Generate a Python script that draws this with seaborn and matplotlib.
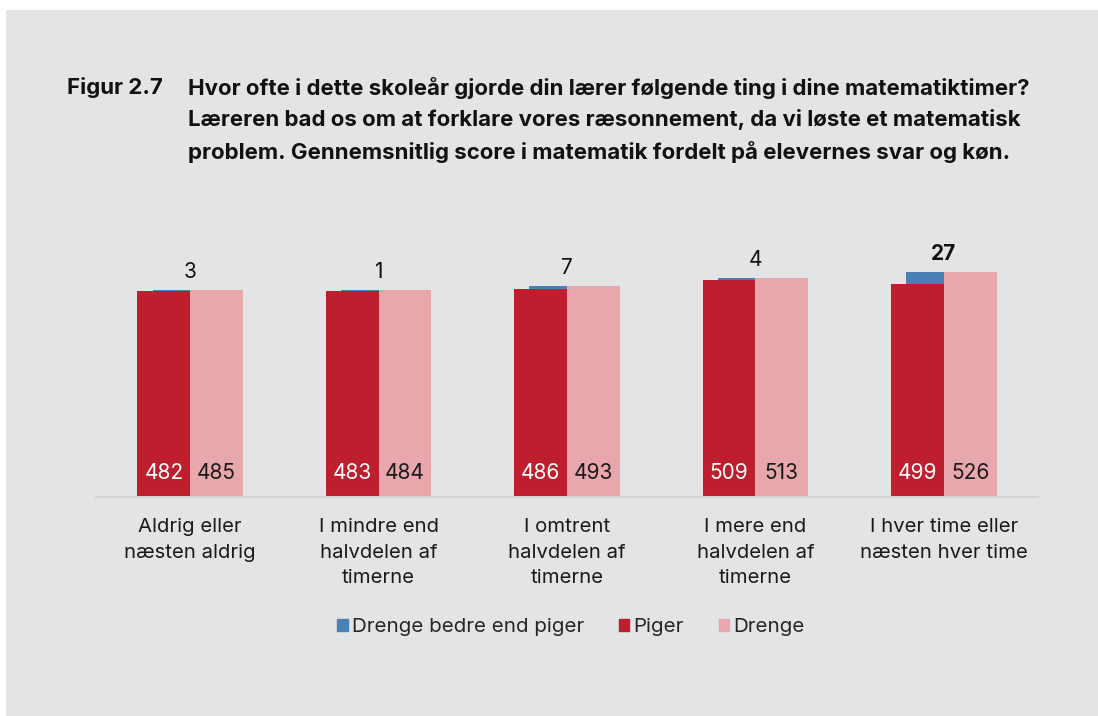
import pandas as pd
import numpy as np
import matplotlib.pyplot as plt
from matplotlib.patches import Patch, Rectangle
import seaborn as sns

# data
categories = ['Aldrig eller\nnæsten aldrig',
              'I mindre end\nhalvdelen af\ntimerne',
              'I omtrent\nhalvdelen af\ntimerne',
              'I mere end\nhalvdelen af\ntimerne',
              'I hver time eller\nnæsten hver time']
piger = [482, 483, 486, 509, 499]
drenge = [485, 484, 493, 513, 526]
diff_labels = ['3', '1', '7', '4', '27']
diff_bold = [False, False, False, False, True]

c_blue = '#4a80b6'
c_piger = '#be1e2d'
c_drenge = '#e8a7ac'
bg = '#e3e4e6'

sns.set_style('white')
plt.rcParams['font.family'] = ['Inter', 'DejaVu Sans']

df = pd.DataFrame({'kategori': categories * 2,
                   'score': piger + drenge,
                   'køn': ['Piger'] * 5 + ['Drenge'] * 5})
diff = pd.DataFrame({'kategori': categories, 'score': drenge})

fig = plt.figure(figsize=(10.98, 7.16), dpi=100)
fig.patch.set_facecolor('white')
fig.patches.append(Rectangle((6 / 1098, 0), 1, 706 / 716, transform=fig.transFigure,
                             facecolor=bg, edgecolor='none', zorder=-10))

ax = fig.add_axes([96 / 1098, 219 / 716, 942 / 1098, 256.2 / 716])
ax.set_facecolor('none')

# blue "difference" bar sits behind the two gender bars; only the gap shows
sns.barplot(data=diff, x='kategori', y='score', color=c_blue, width=0.4,
            saturation=1, linewidth=0, ax=ax, zorder=1)
sns.barplot(data=df, x='kategori', y='score', hue='køn',
            palette={'Piger': c_piger, 'Drenge': c_drenge},
            width=0.56, saturation=1, dodge=True, linewidth=0, ax=ax, zorder=2, legend=False)

ax.set_ylim(0, 600)
ax.set_xlim(-0.5, 4.5)
ax.set_xlabel('')
ax.set_ylabel('')
ax.set_yticks([])
ax.tick_params(axis='x', length=0, pad=15, labelsize=14.6, labelcolor='#1a1a1a')
for lab in ax.get_xticklabels():
    lab.set_linespacing(1.55)
    lab.set_verticalalignment('top')
for s in ['left', 'right', 'top']:
    ax.spines[s].set_visible(False)
ax.spines['bottom'].set_color('#d3d4d6')
ax.spines['bottom'].set_linewidth(1.5)

for i in range(len(categories)):
    ax.annotate(str(piger[i]), xy=(i - 0.14, 0), xytext=(0, 17.5), textcoords='offset points',
                ha='center', va='center', fontsize=15, color='white', zorder=5)
    ax.annotate(str(drenge[i]), xy=(i + 0.14, 0), xytext=(0, 17.5), textcoords='offset points',
                ha='center', va='center', fontsize=15, color='#1a1a1a', zorder=5)
    ax.annotate(diff_labels[i], xy=(i, drenge[i]), xytext=(0, 13), textcoords='offset points',
                ha='center', va='center', fontsize=15, color='#111111',
                fontweight='bold' if diff_bold[i] else 'normal', zorder=5)

handles = [Patch(color=c_blue, label='Drenge bedre end piger'),
           Patch(color=c_piger, label='Piger'),
           Patch(color=c_drenge, label='Drenge')]
fig.legend(handles=handles, loc='center', bbox_to_anchor=(571 / 1098, 1 - 627 / 716),
           ncol=3, frameon=False, fontsize=14.8, handlelength=0.5, handleheight=0.5,
           handletextpad=0.2, columnspacing=1.7)

title_lines = ['Hvor ofte i dette skoleår gjorde din lærer følgende ting i dine matematiktimer?',
               'Læreren bad os om at forklare vores ræsonnement, da vi løste et matematisk',
               'problem. Gennemsnitlig score i matematik fordelt på elevernes svar og køn.']
fig.text(67 / 1098, 1 - 88 / 716, 'Figur 2.7', fontsize=16, fontweight='bold',
         va='center', color='#111111')
for k, line in enumerate(title_lines):
    fig.text(188 / 1098, 1 - (88 + 32 * k) / 716, line, fontsize=16, fontweight='bold',
             va='center', color='#111111')

fig.savefig('out.png', dpi=100)
